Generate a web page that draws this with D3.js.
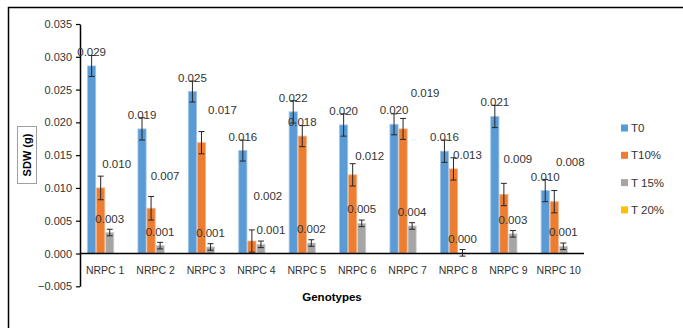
<!DOCTYPE html>
<html>
<head>
<meta charset="utf-8">
<script src="https://cdn.jsdelivr.net/npm/d3@7"></script>
<style>
  html, body { margin: 0; padding: 0; background: #fff; }
  svg { display: block; }
  text { font-family: "Liberation Sans", Arial, sans-serif; }
</style>
</head>
<body>
<svg id="chart" width="683" height="328"></svg>
<script>
// Shoot dry weight by genotype under four treatments
const genotypes = ["NRPC 1", "NRPC 2", "NRPC 3", "NRPC 4", "NRPC 5",
                   "NRPC 6", "NRPC 7", "NRPC 8", "NRPC 9", "NRPC 10"];
const seriesNames = ["T0", "T10%", "T 15%", "T 20%"];

const t0Values   = [0.0286, 0.0190, 0.0247, 0.0157, 0.0216, 0.0196, 0.0197, 0.0156, 0.0209, 0.0096];
const t10Values  = [0.0100, 0.0069, 0.0169, 0.0019, 0.0179, 0.0120, 0.0190, 0.0129, 0.0090, 0.0079];
const t15Values  = [0.0032, 0.0012, 0.0010, 0.0014, 0.0016, 0.0046, 0.0042, 0.0001, 0.0030, 0.0011];
const t20Values  = [null, null, null, null, null, null, null, null, null, null];

const t0Errors   = [0.0016, 0.0017, 0.0016, 0.0016, 0.0017, 0.0017, 0.0016, 0.0017, 0.0017, 0.0017];
const t10Errors  = [0.0018, 0.0018, 0.0017, 0.0017, 0.0016, 0.0017, 0.0016, 0.0017, 0.0017, 0.0017];
const t15Errors  = [0.0005, 0.0005, 0.0005, 0.0005, 0.0005, 0.0005, 0.0005, 0.0005, 0.0005, 0.0005];

const yTicks = [-0.005, 0.000, 0.005, 0.010, 0.015, 0.020, 0.025, 0.030, 0.035];

// Hand-moved data labels (pixel nudges from the default outside-end spot)
const t10LabelNudge = [[16, -10], [14, -18], [21, -19], [16, -31], [0, 0],
                       [17, -5], [22, -22], [14, 0], [14, -22], [16, -26]];
const t15LabelNudge = [[0, 0], [0, 0], [0, 0], [10, 0], [0, 0],
                       [0, 0], [0, 0], [0, 0], [0, 0], [0, 0]];

const colors = ["#5B9BD5", "#ED7D31", "#A5A5A5", "#FFC000"];
const edgeColors = ["#9CC3E8", "#F5AE80", "#CFCFCF", "#FFD966"];

const seriesValues = [t0Values, t10Values, t15Values, t20Values];
const seriesErrors = [t0Errors, t10Errors, t15Errors, null];
const seriesNudges = [null, t10LabelNudge, t15LabelNudge, null];

const svg = d3.select("#chart");
const textColor = "#333333";

// outer chart frame
svg.append("rect")
  .attr("x", 8.5).attr("y", 7.5)
  .attr("width", 700).attr("height", 340)
  .attr("fill", "none").attr("stroke", "#000").attr("stroke-width", 1.5);

const plot = { left: 80, right: 584, top: 24, bottom: 286.3 };

const x = d3.scaleBand()
  .domain(genotypes)
  .range([plot.left, plot.right])
  .paddingInner(0.3)
  .paddingOuter(0.15);

const xInner = d3.scaleBand()
  .domain(seriesNames)
  .range([0, x.bandwidth()])
  .paddingInner(0.1);

const y = d3.scaleLinear()
  .domain([-0.005, 0.035])
  .range([plot.bottom, plot.top]);

const fmt = d3.format(".3f");

// y axis
const yAxis = svg.append("g")
  .attr("transform", `translate(${plot.left},0)`)
  .call(d3.axisLeft(y).tickValues(yTicks).tickFormat(fmt).tickSize(4).tickSizeOuter(0));
yAxis.select(".domain").attr("stroke", "#000").attr("stroke-width", 1.5);
yAxis.selectAll(".tick line").attr("stroke", "#000").attr("stroke-width", 1.2);
yAxis.selectAll(".tick text")
  .attr("x", -8)
  .attr("fill", textColor)
  .style("font-size", "11px")
  .style("font-family", "Liberation Sans, Arial, sans-serif");

// bars
seriesNames.forEach((name, si) => {
  const vals = seriesValues[si];
  const g = svg.append("g");
  genotypes.forEach((cat, ci) => {
    const v = vals[ci];
    if (v === null || v === undefined) return;
    const bx = x(cat) + xInner(name);
    const bw = xInner.bandwidth();
    const y0 = y(0), y1 = y(v);
    g.append("rect")
      .attr("x", bx).attr("y", Math.min(y0, y1))
      .attr("width", bw).attr("height", Math.abs(y0 - y1))
      .attr("fill", colors[si])
      .attr("stroke", edgeColors[si]).attr("stroke-width", 0.8);
  });
});

// x axis (zero line, no ticks)
svg.append("line")
  .attr("x1", plot.left).attr("x2", plot.right)
  .attr("y1", y(0)).attr("y2", y(0))
  .attr("stroke", "#000").attr("stroke-width", 1.6);

// error bars
seriesNames.forEach((name, si) => {
  const vals = seriesValues[si];
  const errs = seriesErrors[si];
  if (!errs) return;
  const g = svg.append("g").attr("stroke", "#262626").attr("stroke-width", 1);
  genotypes.forEach((cat, ci) => {
    const v = vals[ci];
    if (v === null) return;
    const cx = x(cat) + xInner(name) + xInner.bandwidth() / 2;
    const yt = y(v + errs[ci]), yb = y(v - errs[ci]);
    g.append("line").attr("x1", cx).attr("x2", cx).attr("y1", yt).attr("y2", yb);
    g.append("line").attr("x1", cx - 3).attr("x2", cx + 3).attr("y1", yt).attr("y2", yt);
    g.append("line").attr("x1", cx - 3).attr("x2", cx + 3).attr("y1", yb).attr("y2", yb);
  });
});

// data labels
seriesNames.forEach((name, si) => {
  const vals = seriesValues[si];
  const nudges = seriesNudges[si];
  genotypes.forEach((cat, ci) => {
    const v = vals[ci];
    if (v === null) return;
    const cx = x(cat) + xInner(name) + xInner.bandwidth() / 2;
    const n = nudges ? nudges[ci] : [0, 0];
    svg.append("text")
      .attr("x", cx + n[0])
      .attr("y", y(v) - 14 + n[1])
      .attr("dy", "0.35em")
      .attr("text-anchor", "middle")
      .attr("fill", textColor)
      .style("font-size", "11.5px")
      .text(fmt(v));
  });
});

// category labels
svg.append("g").selectAll("text")
  .data(genotypes)
  .join("text")
  .attr("x", d => x(d) + x.bandwidth() / 2)
  .attr("y", 270)
  .attr("dy", "0.35em")
  .attr("text-anchor", "middle")
  .attr("fill", textColor)
  .style("font-size", "10.5px")
  .text(d => d);

// x axis title
svg.append("text")
  .attr("x", (plot.left + plot.right) / 2)
  .attr("y", 297)
  .attr("dy", "0.35em")
  .attr("text-anchor", "middle")
  .attr("fill", "#000")
  .style("font-size", "11.5px")
  .style("font-weight", "bold")
  .text("Genotypes");

// y axis title in a box
svg.append("rect")
  .attr("x", 17.5).attr("y", 126.5)
  .attr("width", 19).attr("height", 57)
  .attr("fill", "#fff").attr("stroke", "#A0A0A0").attr("stroke-width", 1);
svg.append("text")
  .attr("transform", "translate(27,155) rotate(-90)")
  .attr("dy", "0.35em")
  .attr("text-anchor", "middle")
  .attr("fill", "#000")
  .style("font-size", "11px")
  .style("font-weight", "bold")
  .text("SDW (g)");

// legend
const legend = svg.append("g").attr("transform", "translate(621,128)");
seriesNames.forEach((name, i) => {
  const row = legend.append("g").attr("transform", `translate(0,${i * 27.3})`);
  row.append("rect")
    .attr("x", 0).attr("y", -3.5)
    .attr("width", 7).attr("height", 7)
    .attr("fill", colors[i]);
  row.append("text")
    .attr("x", 10).attr("y", 0)
    .attr("dy", "0.35em")
    .attr("fill", textColor)
    .style("font-size", "11.5px")
    .text(name);
});
</script>
</body>
</html>
